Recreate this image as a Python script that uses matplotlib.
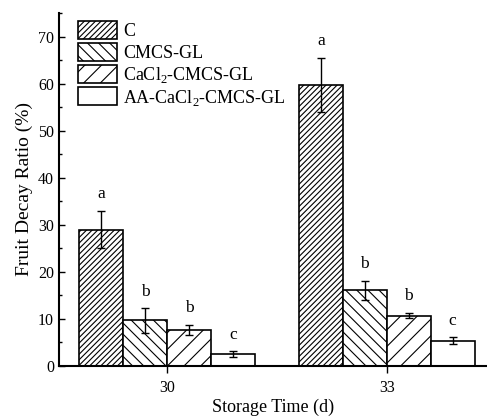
import numpy as np
import matplotlib
matplotlib.use('Agg')
from matplotlib import pyplot as plt
from matplotlib.ticker import MultipleLocator

plt.rcParams['font.family'] = ['Liberation Serif', 'DejaVu Serif']
plt.rcParams['mathtext.fontset'] = 'custom'
plt.rcParams['mathtext.rm'] = 'Liberation Serif'
plt.rcParams['hatch.linewidth'] = 0.8

days = [30, 33]
groups = ['C', 'CMCS-GL', r'CaCl$_2$-CMCS-GL', r'AA-CaCl$_2$-CMCS-GL']
means = [
    [29.0, 59.7],   # C
    [9.7, 16.1],    # CMCS-GL
    [7.7, 10.7],    # CaCl2-CMCS-GL
    [2.6, 5.4],     # AA-CaCl2-CMCS-GL
]
errs = [
    [4.0, 5.8],
    [2.6, 2.0],
    [1.1, 0.6],
    [0.6, 0.7],
]
letters = [
    ['a', 'a'],
    ['b', 'b'],
    ['b', 'b'],
    ['c', 'c'],
]
hatches = ['//////', '\\\\\\', '//', '']

fig = plt.figure(figsize=(4.87, 4.19), dpi=100)
ax = fig.add_axes([0.121, 0.1265, 0.879, 0.8425])

width = 0.6
offsets = [-0.9, -0.3, 0.3, 0.9]
x = np.array(days, dtype=float)

for i in range(4):
    xs = x + offsets[i]
    ax.bar(xs, means[i], width, color='white', edgecolor='black',
           hatch=hatches[i], linewidth=1.2, label=groups[i], zorder=2)
    ax.errorbar(xs, means[i], yerr=errs[i], fmt='none', ecolor='black',
                elinewidth=1.0, capsize=3, capthick=1.0, zorder=3)
    for j in range(len(days)):
        ax.annotate(letters[i][j], (xs[j], means[i][j] + errs[i][j]),
                    xytext=(0, 6), textcoords='offset points',
                    ha='center', va='bottom', fontsize=12.5)

ax.set_xlim(28.525, 34.37)
ax.set_ylim(0, 75)
ax.set_xticks(days)
ax.yaxis.set_major_locator(MultipleLocator(10))
ax.yaxis.set_minor_locator(MultipleLocator(5))
ax.set_yticks(range(0, 71, 10))
ax.tick_params(axis='y', which='major', direction='in', length=4.5, width=1.0, labelsize=11.5)
ax.tick_params(axis='y', which='minor', direction='in', length=2.5, width=1.0)
ax.tick_params(axis='x', which='major', direction='out', length=5, width=1.0,
               labelsize=11.5, pad=5)

for s in ['top', 'right']:
    ax.spines[s].set_visible(False)
for s in ['left', 'bottom']:
    ax.spines[s].set_linewidth(1.5)

ax.set_xlabel('Storage Time (d)', fontsize=13, labelpad=2)
ax.set_ylabel('Fruit Decay Ratio (%)', fontsize=14, labelpad=4)

ax.legend(loc='upper left', bbox_to_anchor=(0.044, 0.977), frameon=False,
          fontsize=13, handlelength=2.2, handleheight=1.15, handletextpad=0.3,
          labelspacing=0.15, borderpad=0, borderaxespad=0)

plt.savefig('out.png', dpi=100)
